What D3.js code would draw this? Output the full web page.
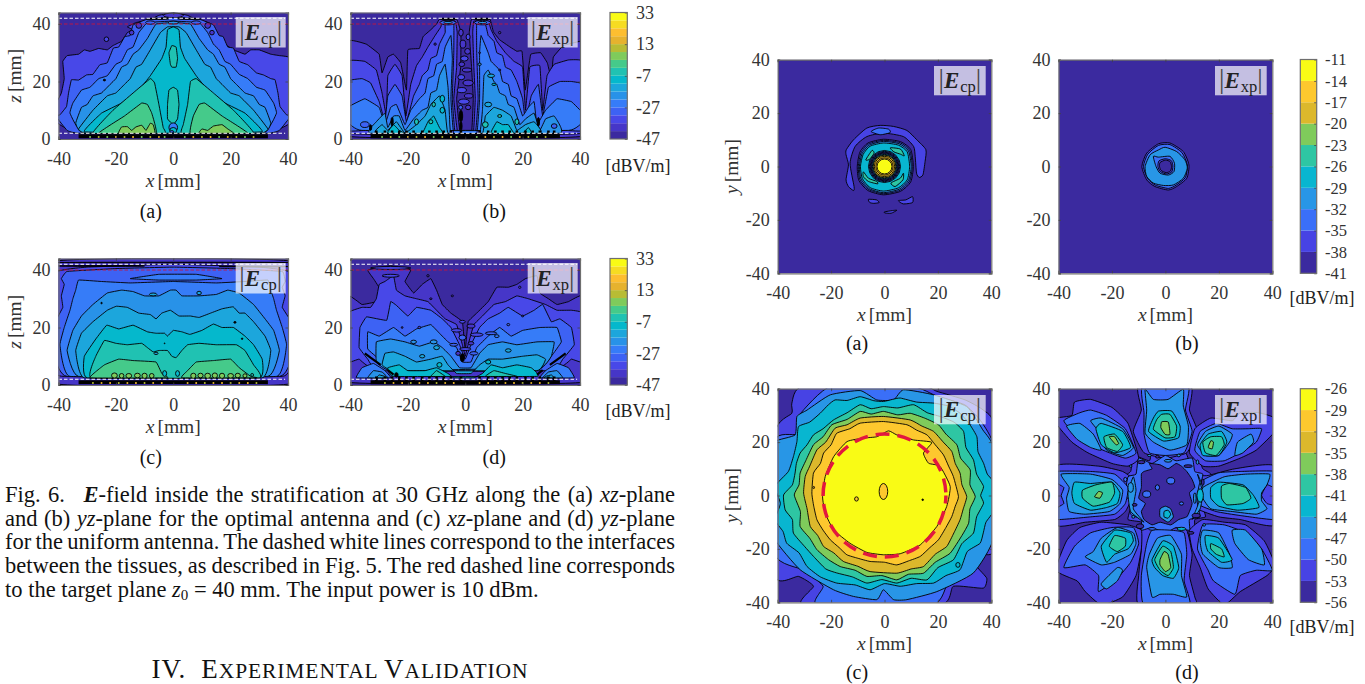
<!DOCTYPE html>
<html>
<head>
<meta charset="utf-8">
<script src="https://d3js.org/d3.v7.min.js"></script>
<style>
  body { margin: 0; background: #fff; }
  text { font-family: "Liberation Serif", serif; }
</style>
</head>
<body>
<svg id="fig" width="1365" height="684"></svg>
<script>
// ticks and colour bands
const xTicks = [-40, -20, 0, 20, 40];
const zTicks = [0, 20, 40];
const yTicks = [-40, -20, 0, 20, 40];
const barTicksXZ = [-47, -27, -7, 13, 33];
const bandsXZ = [-47, -42, -37, -32, -27, -22, -17, -12, -7, -2, 3, 8, 13, 18, 23, 28, 33];
const bandsAB = [-41, -38, -35, -32, -29, -26, -23, -20, -17, -14, -11];
const bandsCD = [-56, -53, -50, -47, -44, -41, -38, -35, -32, -29, -26];
const colours16 = ["#3b2a9f", "#4636c8", "#4848e8", "#3d62f4", "#367cf8", "#2892e8", "#1ca6dc", "#05b8cc",
  "#20c2b2", "#45ca8a", "#7fcb5b", "#b8bc34", "#e6b22e", "#fdbe30", "#f6dc22", "#f9fb15"];
const colours10 = ["#3b2a9f", "#4743e4", "#3a6ff8", "#2896e6", "#08b6d0", "#2ec6a3", "#7fcb5b", "#dcb82c", "#fdc82e", "#f9fb15"];

// contour outlines: [level dB, [x, y, x, y, ...]] in mm
const xzCpOptimal = [
  [-37, [-41,12,-39,16,-38,21,-38.5,27,-37,29,-33,29.5,-31,31,-29,30.5,-26,31.5,-23,31,-21,32.5,-18,34,-16,37,-14,38,-16,39,-13,40.5,-10,41,-8,41.5,-5,43,0,44,5,43,8,41.5,12,40.5,13,38,15,36,18,33,21,31,25,29.5,27,31,30,31,34,29.5,37,29,41,28,41,6,37,3.5,33,2,-33,2,-37,3.5,-41,6]],
  [-32, [-41,8,-39.5,8.4,-37.2,11.3,-36.5,16,-35.5,20.6,-33,20.5,-30.2,22.3,-28,22.5,-25.6,25.8,-23,26.5,-20.9,31.6,-19,32,-16.9,35.6,-15,36,-14,39.7,-9.3,41.6,0,42.5,9.3,41.6,14,39.7,16,36,17.4,35.6,19,32,21,31.6,23,27,26,25.8,29,23,31.4,22.3,34,21,35.5,20.6,36.5,16,37.2,11.3,39.5,8.4,41,8,37,3,32.6,2,-32.6,2,-37,3]],
  [-27, [-36,9,-35,12.5,-32,17,-29,18,-26,21,-23,22,-20,26,-18,27,-16,31,-14,32,-12,37,-9,40.5,0,41,9,40.5,12,37,14,33,16,31,18,27,20,26,23,22.5,26,21,29,18,32,17,35,12.5,36,9,31,2,-31,2]],
  [-22, [-34,5.5,-32,11,-30,12,-28,15,-25,16,-22,19,-20,21,-18,25,-16,26,-14,29.5,-12,31,-9,35,-6,40,0,40.5,6,40,9,35,12,31,14,29.5,16,26,18,25,20,21,22,19,25,16,28,15,30,12,32,11,34,5.5,31,2,-31,2]],
  [-17, [-33,3.5,-28,10,-23,15,-20,16,-17,19,-15,21,-13,25,-11,26,-8,31,-4.5,37,-2,39,2,39,4.5,37,8,31,11,26,13,25,15,21,17,19,20,16,23,15,28,10,33,3.5,30,2,-30,2]],
  [-12, [-31,2.5,-25,9,-18,12.5,-12,17,-8,22,-4,28,-2.5,32,-2,38,0,39,2,38,2.5,32,4,28,8,22,12,17,18,12.5,25,9,31,2.5,0,2]],
  [-7, [-28,2,-21,10,-14,16,-8,21,-6.5,19.5,-5,12,-3.5,4,-3,2]],
  [-7, [3,2,3.5,5,5,12,6,20,8,21,14,16,21,10,28,2]],
  [-7, [-2,7,-2,12,-1.5,17,0,18,1.5,17,2,12,1.5,7,0,5]],
  [-7, [-1,26,-1.5,30,-0.5,32.5,1,32,1.5,28,1,25,-0.5,25]],
  [-2, [-26,2,-17,8,-11,12.5,-9,12,-7.5,9,-6,2]],
  [-2, [6,2,7,8,9,12,11,12.5,17,8,26,2]],
  [3, [-19,2,-18,4.2,-16,4.3,-14.5,3,-13,4.2,-11,4.8,-9.5,3,-8,5.5,-7,5,-6.5,2]],
  [3, [9,2,10,3.5,12,3,14,4.5,17,5,19,3.5,21,2]]
];
const xzCpOptimalBlobs = [
  [-8,40.5,1.6,0.6,-32],[8,40.5,1.6,0.6,-32],[0,40.5,1.8,0.5,-22],[-5.5,41.8,4,0.2,null],[5.5,41.8,4,0.2,null],
  [0,43,3.5,0.8,-42],[-23.3,34.7,0.8,0.8,-37],[-24,20.5,0.4,0.3,null],[0,4,1.5,1.6,-27],[0,3,1.2,1,-12],[-0.5,2.5,0.7,0.4,-32],
  [-12,39.5,1,1,-42],[12,39.5,1,1,-42],[-14.5,37,0.8,0.8,-42],[13.5,37,0.8,0.8,-42]
];
const xzXpOptimal = [
  [-42, [-41,34,-34.5,33,-30,29.5,-29,23,-27,28.5,-25,29.5,-22.5,26.5,-20.5,17,-20,31,-16,31.5,-14.7,35.6,-12,38,-10,40,-9,41.6,-3,41.6,-1.5,37,-1.6,25,-3,14,-1.8,2,2.2,2,2.8,14,2.2,25,1.4,37,2.2,41.6,8.6,41.6,9.8,37.3,12,34.5,15.6,32,18,30.5,19.8,30.5,20.9,17,22.8,29.4,26.3,30,28.6,26.5,30,21,30.7,28.5,34.2,32.5,40,34,41,34,41,1,-41,1]],
  [-37, [-41,27,-35,27,-31,24,-29,16,-27.5,8,-27,22,-24.5,26,-22,22,-20.7,8,-19,19,-17,25.5,-15,28.5,-13,32,-10.5,36,-8.5,39,-8,41,-3.5,41,-2.8,37,-3,25,-4,14,-2.6,2,2.8,2,3.5,14,3,25,2.6,37,3,41,8,41,9,38,11,34,14,30,17,27,20,25,21,10,22.5,25,26,25.5,27,10,28.5,22,31,26,36,27.5,41,27,41,2,-41,2]],
  [-32, [-41,20,-36,21,-33,19.5,-30,13,-28,6,-27,15,-24.5,19,-22,15,-20.5,6,-18,15,-16,19,-15,22,-13,24,-12,28,-10,29,-9,33,-7,37,-7,40,-4,40,-4,30,-4.5,14,-3.5,2,3.5,2,4.5,14,4,30,4,40,7,40,8,36,10,34,11,30,13,29,14,25,16,24,18,20,20,14,21,6,23,15,25.5,19,27,8,29,18,33,20,37,20,41,19,41,3,34,3,-34,3,-41,3]],
  [-27, [-41,11,-35,14,-30,11,-28,5,-26,11,-24,12,-21,5,-19,10,-16,14,-14,16,-13,21,-11,22,-10,26,-8,27,-7,32,-5,36,-4.5,28,-5,14,-4,2,4,2,5,14,5,30,5.5,36,8,30,9,27,12,24,13,20,15,19,16,15,18,14,20,8,22,11,24,13,25,5,28,10,32,14,37,13,41,9,41,6,36,3,-36,3,-41,6]],
  [-22, [-33,2,-31,6,-28,9,-27,4,-25,8,-23,8,-21,3,-18,7,-15,10,-13,11,-12,16,-10,17,-9,22,-7,26,-6,18,-5.5,8,-5,2,5,2,6,10,6.5,22,8,24,10,20,11,19,12,16,14,15,15,12,17,11,19,5,21,7,24,9,26,3,28,7,31,8,33,2]],
  [-17, [-31,2,-29,5,-27,3,-24,6,-21,2,-17,5,-14,8,-12,12,-9,15,-7,10,-6,2,6,2,7,8,10,11,13,10,16,8,18,3,21,5,24,6,26,2]],
  [-12, [-27,2,-25,5,-23,3,-21,2,-15,2,-13,6,-11,8,-9,4,-8,2]],
  [-12, [9,2,11,6,13,5,15,5,17,2,20,2,22,4,23,2]]
];
const xzXpOptimalBlobs = [
  [-6,40.5,2.8,0.8,-32],[6,40.5,2.8,0.8,-32],[-6,40.5,1.5,0.4,-22],[6,40.5,1.5,0.4,-22],[-6,41.8,2.8,0.2,null],[6,41.8,2.8,0.2,null],
  [-1.5,37,0.8,1.2,-42],[1,35.5,0.7,1,-37],[-0.8,33,1,1.4,-42],[0.8,30.5,1,1,-42],[-0.3,28,1.3,0.9,-37],[-1.2,26,1,0.8,-42],[0.6,24,1.6,0.7,-42],[-1.4,21.5,1.2,0.9,-37],[1,19.5,1.8,1,-42],[-1.2,17,1.6,0.9,-37],[1.2,15,1.5,0.8,-42],[-0.5,13,1.9,0.9,-37],[1,11,0.9,0.8,-42],[-1.6,11,0.7,0.7,-32],
  [-1.5,8,0.6,2,null],[-1.5,4.5,0.4,1.5,null],[-25.5,6,0.4,1.5,null],[25.5,6,0.4,1.5,null],[-33,4,0.4,1,null],[-35,5,1.5,1,-32],[31,4.5,1,0.8,-32],
  [5,26,0.6,0.4,-22],[9,22,1.2,0.6,-17],[10,19,0.7,0.4,-12],[8,12,1.2,0.8,-17],[-8,10,0.8,1,-12],[-12,6,0.7,0.7,-7],[12,8,0.7,0.5,-7],[12,24,0.4,0.3,-42],[5,30,0.3,0.3,-42],[12,37,0.4,0.4,-42],[-10.5,33,0.4,0.4,-42],[-8,14,0.8,1.2,-12],[-11,12,0.6,0.8,-7],[7,5,1,1,-7],[-17,6,0.7,1,-7],[18,6,0.7,1,-7]
];
const xzCpUniform = [
  [-42, [-41,0.5,-41,43,41,43,41,0.5]],
  [-37, [-41,39,-30,41,0,42,30,41,41,39,41,8,38,3,-38,3,-41,5]],
  [-32, [-41,22,-38.5,27,-39,31,-38,35,-39,37,-37,39.5,-20,40.5,0,41,20,40.5,38,39.5,39,36,38,34,39,31,38,27,41,22,41,9,37,3,-37,3,-41,9]],
  [-27, [-36,3,-39.5,14,-38,20,-36,26,-35,30,-34,33,-33,36.5,-25,36,-15,35.5,0,36,15,35.5,25,36,33,36.5,34,33,35,30,36,26,38,20,39.5,14,36,3]],
  [-27, [-15,37,-5,38.5,8,38.5,17,37,8,36.5,-5,36.5]],
  [-22, [-33,3,-37,12,-35,19,-32,24,-28,28,-23,32,-18,33,-14,32.5,-10,31,-5,31,-1,33,1,33,3,31,9,31,15,31.5,19,33,23,32,28,28,32,23,35,19,37,12,33,3]],
  [-17, [-31,2.5,-34,12,-32,18,-28,22,-23,26,-19.8,27.4,-16,27,-12,25,-8,24.5,-6,23,-4,25,-1,26,2,24,6,24,9,23.5,13,25,17,26.5,20.9,27.2,23,25,25,25,28,22,32,17,34,12,31,2.5]],
  [-12, [-30,2.5,-31,10,-27,16,-23.2,20.8,-19,19.5,-14,20.8,-9,18.5,-6,18,-3,18,-2,17,0,19,3,18.5,5.8,17.6,10,19,14,21.2,17,20,21,20,25,17,28,14,31,9,30,2.5]],
  [-7, [-28.5,2.5,-27,10,-24,15.5,-20,14.5,-16,14,-11,14.5,-9,13,-7,11.5,-5,12,-2,12,-0.5,10,1,9.5,3,12,5,14,9,14.5,15,14,22,14,25,12,28,7,30,2.5]],
  [-2, [-29,2.5,-24,7,-19,9,-14,8.5,-6,8,-4,4,-2,2.5]],
  [-2, [3,2.5,5,5,8,8,14,8.5,20,9,23,6,27,3,29,2.5]]
];
const xzCpUniformBlobs = [
  [0,42.6,41,0.12,null],[-25,41.4,15,0.15,null],[28,41.2,12,0.15,null],[-3,4,0.7,1,-12],[1.5,4,0.7,1,-12],
  [-7,31.5,1.3,0.5,-17],[9,32,0.8,0.6,-17],[-25,28.5,0.25,0.25,null],[21.5,21.8,0.4,0.3,null],[24,16.1,0.25,0.25,null],[-3,14.5,0.15,0.15,null],
  [27.5,3.5,0.5,0.5,-7],[-6,11,0.7,0.4,-17],
  [-20.5,3.3,1,0.9,3],[-18,3.2,0.8,0.8,3],[-15.5,3.2,1,0.8,3],[-12.5,3.3,1,0.8,3],[-10,3.2,0.9,0.9,3],[-7.5,3.2,0.8,0.8,3],[7,3.2,0.9,0.9,3],[9.5,3.3,0.9,0.8,3],[12,3.2,1,0.9,3],[14.5,3.3,0.9,0.9,3],[17,3.2,0.9,0.9,3],[20,3.2,1,0.8,3],[22.5,3.3,0.9,0.8,3],[25,3.2,0.7,0.7,3]
];
const xzXpUniform = [
  [-42, [-41,31,-36,28,-31,29,-29.5,33,-32,37,-34,40,-26,41.5,-19,40,-21,36,-18,32,-15,35,-12,37,-10,33,-8,28,-5,25,-1,22,0,12,1,22,4,25,8,29,11,34,15,34,18,35,21,37,25,38,26,32,29,30,32,28,36,29,41,31,41,1,-41,1]],
  [-37, [-41,25,-36,27,-33,27,-31,30,-30,35,-28,36,-25,38,-24,33,-21,31,-17,30,-13,29,-10,26,-7,23,-3,21,-1,14,0,10,1,14,3,21,6,24,10,28,14,29,18,31,22,30,28,28,32,26,37,26,41,25,41,8,37,9,32,6,-32,6,-37,9,-41,8]],
  [-32, [-37,13,-36.7,20,-34.4,23.7,-27.4,22.5,-26,29,-24,27.7,-20,24,-17,27,-12,26,-8,23,-5,20,-2,14,0,9,2,14,5,20,8,23,12,25,15,27,20,24,24,26,27,28,30,22,33,23,37,20,38,14,34,9,30,5,-30,5,-34,9]],
  [-27, [-34,12.5,-34,18.5,-30,17,-25,20,-21,17,-17,19.5,-12,21,-9,18,-6,15,-3,13,-1,8,2,8,4,13,8,17,12,20,16,17,20,19,26,20,32,20,33.5,15,30,10,25,5,-25,5,-30,9]],
  [-22, [-31,8,-31,15,-26,16,-21,15,-16,13.5,-11,15,-8,13,-5,10,-2,6,2,6,5,11,8,14,13,15,18,14,25,15,31,15,30,10,26,6,-26,5]],
  [-17, [-29,7,-28,11,-25,11.5,-21,10,-17,8,-12,9,-8,10,-6,7,-3,4,2,4,5,7,8,9,13,9,20,10,25,10.5,28,9,25,5,-25,5]],
  [-12, [-25,3,-27,6,-23,7,-20,5,-14,5,-10,6,-6,4,-4,2.5,3,2.5,6,4,9,7,13,6,18,7,23,6,25,3]],
  [-7, [-12,3,-10,5,-7,3]],
  [-7, [7,3,10,5,14,4,18,3]],
  [-27, [-38,2.5,-36,6,-32,7.5,-28,5,-26,2.5]],
  [-22, [-34,2.5,-32,5,-29,4.5,-27,2.5]],
  [-17, [-31,2.5,-30,3.5,-28,3,-27.5,2.5]],
  [-27, [38,2.5,36,6,32,7.5,28,5,26,2.5]],
  [-22, [34,2.5,32,5,29,4.5,27,2.5]],
  [-17, [31,2.5,30,3.5,28,3,27.5,2.5]]
];
const xzXpUniformBlobs = [
  [-26,40.7,7,0.5,-37],[-26,38,3,0.5,-37],[-1,22,1,0.5,-37],[2,20.5,1.4,0.7,-42],[-3,19,1.8,0.6,-37],[4,17.5,2.2,0.6,-37],[-1,16.5,1.2,0.9,-32],[2,14.5,1,0.6,-42],[-4,14,1.4,0.5,-32],[0,12.5,2,0.5,-37],[-2.5,11,0.8,0.7,-42],[3,11,1.4,0.6,-32],[-1,9.5,0.7,1.4,null],
  [9,18,2,0.5,-32],[-11,15,1.2,0.7,-22],[-24,3.5,0.6,0.8,null],[-12,30,0.4,0.3,-42],[-4.5,31,0.4,0.3,-42],[-13,38,0.4,0.4,-42],[19,34,0.4,0.4,-37],
  [-18,15,1,0.6,-22],[-10,13,1,0.7,-17],[-15,10,0.9,0.6,-17],[15,12,1,0.6,-17],[11,17,0.8,0.5,-27],[8,8,0.9,0.7,-12],[-9,7,0.9,0.8,-12],[-22,20,0.3,0.3,-42],[-16,20,0.5,0.4,-37],[15,21,0.5,0.4,-32],[20,24,0.4,0.3,-37]
];
const cornerSlants = [
  [-35,11,-33,9.5,-29.5,7],[-27,5.2,-25,3.6],
  [35,11,33,9.5,29.5,7],[27,5.2,25,3.6]
];
const xyCpOptimal = [
  [-38, [-14.3,6.3,-11.6,10,-6.6,14.4,-1.6,15.4,3.4,15,8.4,13.5,12.1,10,15.5,6.3,15.2,1.9,14.4,-3.1,13,-4.1,12,-2.5,11.5,3.7,10.9,7.5,7.1,11.2,-0.4,12.5,-6.6,11.2,-11,7.5,-12.9,1.2,-11.4,-7.5,-11.6,-9,-13.5,-7.5,-14.4,-5,-13.5,0.6,-14.4,4.4]],
  [-35, [-5,13.1,-2.2,14.4,1.5,14,2.1,12.7,-1.6,11.9]],
  [-38, [-6,-12.3,-3,-12.5,-2,-13.5,-4,-13.8,-5.5,-13.5]],
  [-38, [5.2,-12.8,8,-12.5,10.5,-11.3,10.5,-13.5,7,-14]],
  [-38, [0,-17,3,-16.5,4.6,-16.4,2.5,-17.5,0.2,-17.4]],
  [-38, [-10.2,0,-9.2,5.4,-6.2,8.8,-0.4,10.2,6,9.3,9.8,6.4,10.8,0,9.8,-5.8,6,-9.3,-0.4,-10.6,-6.2,-9,-9.6,-5.2]],
  [-35, [-9.8,0,-8.8,5.1,-6,8.4,-0.4,9.8,5.8,8.9,9.4,6.1,10.4,0,9.4,-5.5,5.8,-8.9,-0.4,-10.2,-6,-8.6,-9.2,-5]],
  [-32, [-9.4,0,-8.4,4.8,-5.7,8,-0.4,9.4,5.5,8.5,9,5.8,10,0,9,-5.2,5.5,-8.5,-0.4,-9.8,-5.7,-8.3,-8.8,-4.7]],
  [-29, [-9,0,-8,4.5,-5.4,7.6,-0.4,8.8,5.2,8,8.5,5.5,9.4,0,8.5,-5,5.2,-8,-0.4,-9.2,-5.4,-7.9,-8.3,-4.5]],
  [-26, [2.2,7,6,6.5,7.4,4,6,4.6,3.5,5.5]],
  [-26, [-7,2.5,-4.7,6,-3.9,5,-5.6,2.7]],
  [-26, [-7.9,-2,-6,-4.4,-2.9,-5.6,-2.6,-6.5,-6,-5.6,-7.9,-3.8]],
  [-26, [2.4,-6.2,5.9,-4.4,7.1,-2.5,6.9,-5,4,-7.5]]
];
const xyCpOptimalRings = [
  [0,0,6,6,-32],[0,0,5.7,5.7,-35],[0,0,5.4,5.4,-38],[0,0,5.1,5.1,-41],[0,0,4.85,4.85,-35],[0,0,4.55,4.55,-29],[0,0,4.25,4.25,-20],[0,0,3.8,3.8,-17],[0,0,3.25,3.25,-17],[0,0,2.8,2.8,-14]
];
const xyXpOptimal = [
  [-38, [-8.8,0,-7,5,-2.6,8.5,1.7,8.8,6.7,5.6,8.8,0.6,8,-4.4,4.2,-7.5,1.1,-8.8,-3.9,-7.5,-7,-5]],
  [-35, [-8.2,0,-6.6,4.6,-2.6,7.9,1.7,8.2,6.2,5.2,8.2,0.6,7.5,-4.1,4,-7,1.1,-8.2,-3.7,-7,-6.6,-4.6]],
  [-32, [-7.6,0,-5.7,4.4,-2.6,6.2,-0.1,7.2,4.2,5.6,7.3,2.5,8.2,-0.6,6.7,-4.4,3,-6.9,-0.7,-7.1,-4.5,-6.2,-7,-3.7]],
  [-35, [-4.5,3.8,-2.6,3.5,1.7,3.8,3.4,1.2,3.2,-1.9,1.1,-3.2,-2,-2.5,-3.5,0]],
  [-38, [-2.4,2.1,0,2.9,2.2,2.2,2.8,0.2,2.4,-2,0.4,-2.8,-1.9,-1.9,-2.8,0]],
  [-41, [-2,1.5,0,2.4,1.8,1.8,2.3,0,1.9,-1.7,0.3,-2.3,-1.6,-1.5,-2.2,0]]
];
const xyCpUniform = [
  [-53, [-41,23.4,-34.7,30.8,-34.7,34.6,-30.3,41,13.4,41,19.6,39,30.2,35.8,37,32,41,25.9,41,-20.4,33.3,-21,34.6,-26.6,38.3,-31,37,-34.7,25.8,-34,20.8,-41,-30.3,-41,-26.6,-34,-32.2,-30.3,-41,-30]],
  [-50, [-41,20.5,-33,23,-32,30,-20,41,10,41,20,37,30,34,36,28,41,18,41,-16,31,-22,31,-30,24,-32,18,-41,-25,-41,-23,-34,-30,-28,-41,-22]],
  [-47, [-41,5.9,-41,13.4,-41,20.2,-33.5,22.7,-32.8,29.6,-29,32,-20.3,37.7,-9.1,39.3,-2.9,35.8,3.4,35.8,7.1,39.6,18.4,37.7,30.8,33.3,36.8,24.6,41,17.1,41,-15.4,33.3,-29,19.6,-36,8.4,-39,3.4,-39,-0.4,-35.3,-2.9,-39,-11.6,-37.8,-19.1,-35.3,-31.6,-27.8,-41,-16.6,-41,-9]],
  [-44, [-41,3.4,-36,9,-34,15,-32.8,20.2,-32.2,25.8,-28,27.5,-24.1,30.8,-21,34,-18.5,35.8,-14,35.6,-9.1,37,-4,35.5,-0.4,35.2,3,36,5.9,36.5,12,35,18.4,34.6,24,33.5,28.3,30.8,32,26.5,34.6,22,35,16.5,37.1,12.1,38.5,8,41,4.6,41,-5.4,38,-10,37,-14,35.8,-17.9,31,-21,28.3,-27.8,23,-30,18.4,-32.8,12,-33,5.9,-34,0,-33,-5.4,-35.3,-11,-33.5,-17.9,-32.8,-24,-30.5,-29,-26.6,-32,-21.5,-36.6,-17.9,-38,-13.5,-41,-9.1,-39,-3]],
  [-41, [-37.8,0.2,-34.5,4,-33.5,8.4,-33,12,-31.6,15.9,-29,19,-26.6,22.7,-23,25,-19.1,28.3,-14,31,-9.1,34,-5,32.5,-0.4,33.3,5,32.8,10.9,34,16,31,20.8,29.6,26,27.5,29.6,24,30.5,18,33.3,13.4,34.5,8,37.1,3.4,36,0,37.1,-2.9,34.5,-8,33.3,-14.1,29,-18,25.8,-24.1,20,-27,15.9,-31.6,10,-31,4.6,-32.8,-1,-31.5,-6.6,-32.8,-12,-30.5,-17.9,-29,-22,-27.5,-26.6,-22.8,-30,-19,-34.1,-14.1,-34.5,-9,-37.2,-5.4]],
  [-38, [-33.8,0.2,-32,4,-31.6,8.4,-29.5,13,-26.6,19,-23,22,-19.7,26.5,-14,28.5,-9.1,31.5,-5,30.5,-0.4,31.5,5,30.2,9.6,30.8,15,29,20.2,26.5,23,23,27.1,19,28.5,14,32.1,9.6,32,4,34,-0.4,32,-5,31.5,-10.4,29,-15,24.6,-21.6,19,-25,14.6,-29.1,9,-29.5,4.6,-31.6,-1,-30,-6.6,-30.3,-11,-28,-16.6,-26.6,-21,-24,-25.3,-20.3,-28,-16,-31.6,-11.6,-31.5,-6]],
  [-35, [-30.3,0.9,-29.7,7.1,-28,11,-25.3,17.1,-22,20,-18.5,25.2,-14,26.5,-9.1,29,-0.4,29.6,9.6,28.3,14,26,18.4,24,22,20,25.2,16.5,26.5,12,28.3,8.4,29,4,30.8,-0.4,29.5,-5,28.3,-9.1,26,-14,23.3,-19.1,19,-22,14.6,-26.6,10,-27.5,4.6,-29.1,-5.4,-28.5,-10,-26.5,-15.4,-24.7,-19,-21.5,-22.8,-19.1,-25,-15,-27.8,-11.6,-29,-5]],
  [-32, [-27.2,0.9,-26.6,8.4,-24,12,-22.8,15.9,-20,19,-17.9,23.3,-13,25,-9.1,27.1,-0.4,27.7,8.4,26.5,12,24.5,15.9,22.7,19,19,22.1,15.2,24,11,25.8,7.1,27.7,-0.4,26.5,-4,25.2,-7.9,23,-12,20.2,-16.6,17,-19.5,13.4,-22.8,9,-24.5,4.6,-26,0,-25,-5.4,-24.7,-10,-23.5,-14.1,-22.2,-17,-19.5,-20.3,-16.6,-23,-13,-25.3,-9.1,-26.5,-4]],
  [-29, [-23.2,-0.4,-22.2,7.1,-19,14.6,-14,20.2,-7.9,21.5,-2.9,22,1.5,24.2,4.6,22.7,10.9,20.8,17.7,19.9,14.6,15.9,16.5,12.1,20.8,10.9,24.6,3.4,23.3,-4.1,19.6,-11.6,13.4,-18.5,5.9,-21.8,-0.4,-22.2,-6.6,-21.3,-12.9,-17.9,-19,-12.9,-22.2,-6.6]]
];
const xyCpUniformBlobs = [
  [-0.4,1.5,1.6,3,-32],[-10.5,-1.3,0.7,0.8,-32],[14.3,-1.6,0.3,0.3,null],[-26.5,3,0.3,0.4,-32],[27.5,-26,0.8,0.9,-44]
];
const targetRadius = [23];
const xyXpUniform = [
  [-53, [-17,6,-13,9,-12,15,-6,13,-5,17,0,15,7,17,9,13,12,15,14,10,17,8,15,3,16,0,14,-4,15,-8,11,-9,11,-14,7,-12,4,-16,-1,-13,-3,-15,-9,-14,-9,-10,-14,-9,-13,-4,-16,0]],
  [-50, [-14,7,-11,8,-10,14,-5,12,0,15,4,13,10,14,11,9,14,8,13,3,15,0,12,-3,13,-8,9,-9,9,-13,4,-12,0,-14,-5,-12,-9,-13,-9,-9,-13,-7,-12,-3,-15,0]],
  [-47, [-14,1,-12,7,-11,2,-12,-5,-8,-10,-13,-6]],
  [-47, [12,8,14,3,12,-4,10,-9,13,-5,14,1]],
  [-53, [-10,41,9.5,41,9,32,12,24,8,16,0,14,-8,16,-12,24,-9,32]],
  [-50, [-8.5,41,8.5,41,7.5,32,10,24,7,16,0,15,-6,16,-8,23,-8,31]],
  [-47, [-7.6,39.8,-4.5,36,1,36,6.7,39.8,6.7,33.5,8.6,26,8,19,1.7,17,-4.5,20,-7.6,23.5,-7,32]],
  [-44, [-2.6,31.6,2.4,31.6,5.5,26,4.9,21.6,-0.7,20.4,-6.3,24,-4.5,29]],
  [-41, [-1.4,30.4,1.7,30.4,4.2,26,3.6,22,-0.1,21.6,-4.5,24.8,-3.2,28.5]],
  [-38, [-1.4,27.6,1.1,27.5,1.7,22.9,-0.1,22.9,-1.7,25.4]],
  [-53, [9,16,11,25,17,29,25,28,28,31,35,31,41,29,41,24,34,17,28,14,20,11,14,11]],
  [-50, [11,17,13,24,19,27,25,25,31,25,36,25,34,20,28,16,22,13,15,13]],
  [-47, [12,19,15,24,20,26,25,23,24,20,20,15,15,15]],
  [-47, [26,15,27,20,32,23,33,20,29,16]],
  [-44, [13,19,16,23,21,24,23,20,20,15,14,15]],
  [-41, [14,20,17,22,21,22,22,19,19,15,15,16]],
  [-38, [16,18,17,20.5,18,20,17.5,17.5]],
  [-53, [11,7,16,7.5,26,10,41,11,41,-11,28,-9,20,-8,12,-5,11,0]],
  [-50, [13,5,20,8.5,28,9,41,9,41,3,38,4,36,0,38,-3,41,-4,41,-9,28,-7.5,19,-6,12,-3]],
  [-47, [14,3,22,7,30,8,39,8,38,4,36,1,36,-2,38,-5,34,-7,25,-6,17,-5,14,-1]],
  [-44, [17,3,20,5,29,4,33,0,35,-4.5,27,-5.5,20,-4,17,-1]],
  [-41, [21,3.5,24,4.5,30,3,32,-1,29,-3,23,-3.5,21,-1]],
  [-53, [9,-13,14,-9,22,-10,30,-11,37,-17,41,-26,38,-30,28,-36,22,-41,16,-35,13,-27,10,-20]],
  [-50, [14,-11,22,-11,30,-14,36,-20,40,-28,34,-28,28,-30,26,-37,18,-32,16,-28,12,-20]],
  [-47, [14,-13,20,-14,24,-22,25,-27,20,-27,14,-22,13,-17]],
  [-47, [25,-13,30,-13,36,-20,37,-26,31,-24,26,-18]],
  [-44, [15,-15,20,-16,25,-24,21,-25,16,-21,15,-18]],
  [-41, [17,-18,21,-20,22,-23,19,-22,17,-20]],
  [-53, [-10,-41,-10,-30,-9,-20,-9,-13,-4,-11,3,-12,8,-13,10,-22,9,-30,11,-38,11,-41]],
  [-50, [-8,-41,-9,-30,-7,-18,-5,-13,2,-13,7,-14,8,-22,7,-32,9,-41]],
  [-47, [-5,-38,-7,-27,-6,-22,-3,-16,2,-15,6,-22,6,-30,8,-38,3,-37,-2,-37]],
  [-44, [-5,-24,-1,-17,3,-19,5,-27,3,-31,-1,-30,-4,-27]],
  [-41, [-4,-24,-1,-19,2,-21,3,-27,1,-30,-2,-28]],
  [-38, [-2,-24,-0.5,-21,1,-22,2,-27,0,-28.5,-2,-26]],
  [-53, [-9,-13,-14,-11,-24,-10,-32,-12,-37,-17,-41,-28,-33,-32,-30,-36,-24,-41,-16,-38,-11,-30,-9,-20]],
  [-50, [-12,-12,-20,-12,-28,-14,-34,-19,-38,-27,-30,-26,-25,-30,-25,-36,-18,-31,-13,-25,-10,-18]],
  [-47, [-12,-14,-18,-12,-24,-16,-27,-21,-30,-23,-24,-26,-19,-25,-13,-22,-11,-18]],
  [-47, [-24,-33,-18,-27,-16,-28,-18,-32,-22,-35]],
  [-44, [-13,-14,-19,-13,-24,-19,-22,-25,-19,-22,-14,-20,-12,-17]],
  [-41, [-15,-16,-19,-15,-21,-19,-18,-21,-15,-19]],
  [-53, [-41,11,-25,11,-16,9,-11,5,-13,-2,-15,-6,-19,-9,-30,-10,-41,-11]],
  [-50, [-41,9,-28,9,-19,8,-14,3,-15,-3,-19,-7,-28,-8,-41,-9,-41,-5,-38,-3,-39,0,-38,3,-41,5]],
  [-47, [-39,8,-28,8,-20,6,-16,2,-17,-3,-21,-6,-30,-7,-36,-6,-37,-1,-36,3]],
  [-44, [-34,5,-28,4.5,-20,5,-17,1,-18,-3,-22,-4.5,-28,-5.5,-34,-3,-35,1]],
  [-41, [-31,2,-26,4,-20,5,-19,1,-21,-2.5,-27,-4,-31,-1]],
  [-38, [-26.5,-0.5,-25,1.5,-23.5,1,-24.5,-1]],
  [-53, [-10,14,-14,27,-20,33,-28,36,-34,35,-35,30,-41,29,-41,27,-35,20,-29,16,-20,12,-14,11]],
  [-50, [-11,16,-15,25,-22,30,-28,32,-32,31,-38,28,-33,22,-28,19,-21,16,-15,14]],
  [-47, [-12,18,-16,25,-24,29,-28,28,-25,24,-22,17,-16,15]],
  [-47, [-37,26,-32,27,-27,23,-24,17,-28,18,-33,21]],
  [-44, [-13,18,-16,24,-24,27,-26,25,-24,19,-19,16]],
  [-41, [-16,19,-19,23,-23,22,-22,18,-18,16.5]],
  [-38, [-18.5,19,-21,22,-19,22,-17.5,19.5]]
];
const xyXpUniformHoles = [
  [-56, [-9,8,-8,9,-5,10,-6,12,-2,11.5,1,10,4,12,6,11,8,9,10,6,11,3,9,1,10,-3,9,-6,8,-8,5,-9,2,-11,-2,-10,-5,-11,-8,-9,-9,-6,-7.5,-3,-10,-1,-9,3]],
  [-47, [-2,-5,0,-4,2,-5,3,-8,1,-10,-2,-8]],
  [-44, [-0.5,-6,1,-5.5,2,-7,1,-8.5,-0.5,-8]]
];
const xyXpUniformBlobs = [
  [-7,0.5,1.5,1.2,-50],[-3,3,0.8,1,-50],[2,5.5,1.5,1.2,-50],[6,-3,0.8,0.6,-50],[-13,3,1,1.8,-47],[13,0,1.2,2.5,-44],[-11.5,-3.5,0.9,0.5,-56],[-9,12.5,1.4,0.6,-56],[-3,14.5,0.7,0.5,-56],[8.5,11,1.6,0.5,-56],[11.5,-7.5,1.5,0.8,-56],[14,5,0.5,1.2,-56],[9.5,-14,1.2,0.5,-56],[-9.5,-11.5,1.4,0.9,-56],
  [-13,11,0.5,0.4,-47],[-6,15,0.7,0.4,-47],[1,13,1.4,0.5,-47],[5,15,0.6,0.5,-47],[12,12.5,0.5,0.8,-47],[11,-1,0.5,2,-47],[14.5,-11,0.5,0.5,-47],[6,-12.5,1.6,0.6,-44],[-5,-12.5,1.3,0.5,-50],[-12,-8,0.6,0.5,-47],[-15,6,0.6,0.8,-50]
];

// the noisy strip along z = 0..2: x of the specks and their level
const specksOptimal = [[-29,3],[-26,8],[-23,3],[-20,13],[-17,8],[-14,18],[-11,3],[-8,8],[-5,13],[-3,3],[4,3],[7,13],[10,8],[13,18],[16,3],[19,13],[22,8],[25,3],[28,8]];
const specksUniform = [[-28,8],[-25,13],[-22,18],[-19,8],[-16,13],[-13,18],[-10,8],[-7,13],[-4,18],[5,13],[8,18],[11,8],[14,13],[17,18],[20,8],[23,13],[26,18],[29,8]];
const teethX = [-31,-28,-25.5,-23,-20.5,-18,-15,-12.5,-10,-7.5,-5,-1.5,5,8,10.5,13,15.5,18,21,23.5,26,29,31];
const interfaces = [2, 42];
const targetZ = [40];

const captionLines = [
  [["Fig. 6.\u2002 "], ["E", "b"], ["-field inside the stratification at 30 GHz along the (a) "], ["xz", "i"], ["-plane"]],
  [["and (b) "], ["yz", "i"], ["-plane for the optimal antenna and (c) "], ["xz", "i"], ["-plane and (d) "], ["yz", "i"], ["-plane"]],
  [["for the uniform antenna. The dashed white lines correspond to the interfaces"]],
  [["between the tissues, as described in Fig. 5. The red dashed line corresponds"]],
  [["to the target plane "], ["z", "i"], ["0", "s"], [" = 40 mm. The input power is 10 dBm."]]
];
const headingParts = [["IV.  E", 27], ["XPERIMENTAL ", 21.5], ["V", 27], ["ALIDATION", 21.5]];

const svg = d3.select("#fig");
let clipId = 0;

function toPoints(flat) {
  return d3.range(0, flat.length, 2).map(i => [flat[i], flat[i + 1]]);
}

function legendText(g, cx, cy, sub) {
  const t = g.append("text").attr("x", cx).attr("y", cy + 7.5).attr("text-anchor", "middle").attr("fill", "#222");
  t.append("tspan").attr("font-size", 27).attr("fill", "#444").text("|");
  t.append("tspan").attr("font-size", 23).attr("font-weight", "bold").attr("font-style", "italic").text("E");
  t.append("tspan").attr("font-size", 16.5).attr("dy", 4).attr("dx", 1).text(sub);
  t.append("tspan").attr("font-size", 27).attr("fill", "#444").attr("dy", -4).text("|");
}

function drawPanel(o) {
  const x = d3.scaleLinear().domain([-40, 40]).range([o.left, o.right]);
  const y = d3.scaleLinear().domain(o.yDomain).range([o.bottom, o.top]);
  const colour = d3.scaleThreshold().domain(o.bands.slice(1, -1)).range(o.colours);
  const line = d3.line().x(d => x(d[0])).y(d => y(d[1])).curve(d3.curveCardinalClosed.tension(o.tension));
  const g = svg.append("g");
  const id = "clip" + (clipId++);

  g.append("clipPath").attr("id", id).append("rect")
    .attr("x", o.left).attr("y", o.top).attr("width", o.right - o.left).attr("height", o.bottom - o.top);
  const plot = g.append("g").attr("clip-path", "url(#" + id + ")");
  plot.append("rect").attr("x", o.left).attr("y", o.top).attr("width", o.right - o.left).attr("height", o.bottom - o.top)
    .attr("fill", o.colours[0]);

  const addPolys = rows => plot.append("g").selectAll("path").data(rows).join("path")
    .attr("d", d => line(toPoints(d[1])))
    .attr("fill", d => colour(d[0]))
    .attr("stroke", "#000").attr("stroke-width", 0.9).attr("stroke-linejoin", "round");
  addPolys(o.sorted ? d3.sort(o.polys, d => d[0]) : o.polys);
  if (o.holes) addPolys(o.holes);

  if (o.slants) {
    plot.append("g").selectAll("path").data(o.slants).join("path")
      .attr("d", d => d3.line().x(p => x(p[0])).y(p => y(p[1]))(toPoints(d)))
      .attr("fill", "none").attr("stroke", "#000").attr("stroke-width", 2.2);
  }

  if (o.blobs) {
    plot.append("g").selectAll("ellipse").data(o.blobs).join("ellipse")
      .attr("cx", d => x(d[0])).attr("cy", d => y(d[1]))
      .attr("rx", d => x(d[2]) - x(0))
      .attr("ry", d => y(0) - y(d[3]))
      .attr("fill", d => d[4] === null ? "#000" : colour(d[4]))
      .attr("stroke", "#000").attr("stroke-width", 0.9);
  }

  if (o.specks) {
    // black strip and the specks in it
    plot.append("line").attr("x1", x(-33)).attr("x2", x(33)).attr("y1", y(1)).attr("y2", y(1))
      .attr("stroke", "#000").attr("stroke-width", 4);
    if (o.teeth) {
      plot.append("g").selectAll("line").data(o.teeth).join("line")
        .attr("x1", d => x(d)).attr("x2", d => x(d)).attr("y1", y(1)).attr("y2", y(3))
        .attr("stroke", "#000").attr("stroke-width", 2.6);
    }
    plot.append("g").selectAll("circle").data(o.specks).join("circle")
      .attr("cx", d => x(d[0])).attr("cy", y(0.7)).attr("r", 1)
      .attr("fill", d => colour(d[1]));
  }

  if (o.interfaces) {
    plot.append("g").selectAll("line").data(o.interfaces).join("line")
      .attr("x1", x(-40)).attr("x2", x(39)).attr("y1", d => y(d)).attr("y2", d => y(d))
      .attr("stroke", "#fff").attr("stroke-width", 1).attr("stroke-dasharray", "3.5,2");
    plot.append("g").selectAll("line.t").data(targetZ).join("line")
      .attr("x1", x(-40)).attr("x2", x(40)).attr("y1", d => y(d)).attr("y2", d => y(d))
      .attr("stroke", "#c8153c").attr("stroke-width", 0.9).attr("stroke-dasharray", "3.5,2");
  }
  if (o.targetCircle) {
    plot.append("g").selectAll("circle.t").data(targetRadius).join("circle")
      .attr("cx", x(0)).attr("cy", y(0)).attr("r", d => x(d) - x(0))
      .attr("fill", "none").attr("stroke", "#e2173f").attr("stroke-width", 3.5)
      .attr("stroke-dasharray", "14,8").attr("stroke-dashoffset", 6);
  }

  // legend box
  const bx = o.right - o.boxRight - o.boxW, by = o.top + o.boxTop;
  g.append("rect").attr("x", bx).attr("y", by).attr("width", o.boxW).attr("height", o.boxH)
    .attr("fill", "#fff").attr("fill-opacity", 0.7);
  legendText(g, bx + o.boxW / 2, by + o.boxH / 2, o.sub);

  // axes, ticks on all four sides pointing in
  const tickText = d => String(d);
  const styleAxis = a => {
    a.selectAll(".domain").attr("stroke", "#6e6e6e").attr("stroke-width", 1.2);
    a.selectAll(".tick line").attr("stroke", "#444").attr("stroke-width", 0.8);
    a.selectAll("text").attr("font-family", "Liberation Serif").attr("font-size", 18).attr("fill", "#333");
  };
  g.append("g").attr("transform", "translate(0," + o.bottom + ")")
    .call(d3.axisBottom(x).tickValues(xTicks).tickSize(-2.5).tickPadding(13).tickFormat(tickText)).call(styleAxis);
  g.append("g").attr("transform", "translate(" + o.left + ",0)")
    .call(d3.axisLeft(y).tickValues(o.yTicks).tickSize(-2.5).tickPadding(8).tickFormat(tickText)).call(styleAxis);
  g.append("g").attr("transform", "translate(0," + o.top + ")")
    .call(d3.axisTop(x).tickValues(xTicks).tickSize(-2.5).tickFormat("")).call(styleAxis);
  g.append("g").attr("transform", "translate(" + o.right + ",0)")
    .call(d3.axisRight(y).tickValues(o.yTicks).tickSize(-2.5).tickFormat("")).call(styleAxis);

  // x label
  const cx = (o.left + o.right) / 2;
  const xl = g.append("text").attr("x", cx).attr("y", o.bottom + 47.5).attr("text-anchor", "middle")
    .attr("font-size", 19.5).attr("fill", "#333");
  xl.append("tspan").attr("font-style", "italic").text("x");
  xl.append("tspan").attr("dx", 3).text("[mm]");

  if (o.yName) {
    const cy = (o.top + o.bottom) / 2;
    const yl = g.append("text").attr("transform", "translate(" + (o.left - o.yNameGap) + "," + cy + ") rotate(-90)")
      .attr("text-anchor", "middle").attr("font-size", 19.5).attr("fill", "#333");
    yl.append("tspan").attr("font-style", "italic").text(o.yName);
    yl.append("tspan").attr("dx", 3).text("[mm]");
  }

  g.append("text").attr("x", cx + o.tagShift).attr("y", o.bottom + o.tagGap).attr("text-anchor", "middle")
    .attr("font-size", 20).attr("fill", "#111").text(o.tag);
}

function drawBar(left, right, top, bottom, bands, colours, ticks, labelX, fontSize, unitX, unitY) {
  const y = d3.scaleLinear().domain([bands[0], bands[bands.length - 1]]).range([bottom, top]);
  const g = svg.append("g");
  g.append("g").selectAll("rect").data(d3.pairs(bands)).join("rect")
    .attr("x", left).attr("width", right - left)
    .attr("y", d => y(d[1])).attr("height", d => y(d[0]) - y(d[1]))
    .attr("fill", (d, i) => colours[i]);
  const ax = g.append("g").attr("transform", "translate(" + right + ",0)")
    .call(d3.axisRight(y).tickValues(ticks).tickSize(-2.5).tickPadding(labelX - right).tickFormat(d => String(d)));
  ax.select(".domain").remove();
  ax.selectAll(".tick line").attr("stroke", "#444").attr("stroke-width", 0.8);
  ax.selectAll("text").attr("font-family", "Liberation Serif").attr("font-size", fontSize).attr("fill", "#333");
  g.append("rect").attr("x", left).attr("y", top).attr("width", right - left).attr("height", bottom - top)
    .attr("fill", "none").attr("stroke", "#6e6e6e").attr("stroke-width", 1.2);
  g.append("text").attr("x", unitX).attr("y", unitY).attr("text-anchor", "middle")
    .attr("font-size", 18).attr("fill", "#222").text("[dBV/m]");
}

const leftBase = {
  yDomain: [0, 44], yTicks: zTicks, bands: bandsXZ, colours: colours16, tension: 0.8, sorted: true,
  boxRight: 2.3, boxTop: 4.5, boxW: 50, boxH: 30.5, interfaces: interfaces, tagGap: 79
};
const rightBase = {
  yDomain: [-40, 40], yTicks: yTicks, colours: colours10, tension: 0.35,
  boxRight: 5.6, boxTop: 6.3, boxW: 51.7, boxH: 29.3, tagGap: 77
};

drawPanel({ ...leftBase, left: 58.5, right: 288, top: 12.5, bottom: 139, polys: xzCpOptimal, blobs: xzCpOptimalBlobs,
  specks: specksOptimal, sub: "cp", yName: "z", yNameGap: 38, tag: "(a)", tagShift: -22.5 });
drawPanel({ ...leftBase, left: 350.5, right: 580, top: 12.5, bottom: 139, polys: xzXpOptimal, blobs: xzXpOptimalBlobs,
  specks: specksOptimal, teeth: teethX, sub: "xp", tag: "(b)", tagShift: 29 });
drawPanel({ ...leftBase, left: 58.5, right: 288, top: 258.5, bottom: 385, polys: xzCpUniform, blobs: xzCpUniformBlobs,
  specks: specksUniform, sub: "cp", yName: "z", yNameGap: 38, tag: "(c)", tagShift: -22.5 });
drawPanel({ ...leftBase, left: 350.5, right: 580, top: 258.5, bottom: 385, polys: xzXpUniform, blobs: xzXpUniformBlobs,
  specks: specksUniform, teeth: teethX, slants: cornerSlants, sub: "xp", tag: "(d)", tagShift: 29 });
drawBar(610, 627.3, 12.5, 139, bandsXZ, colours16, barTicksXZ, 636, 18, 638, 171.5);
drawBar(610, 627.3, 258.5, 385, bandsXZ, colours16, barTicksXZ, 636, 18, 638, 416.5);

drawPanel({ ...rightBase, left: 777.7, right: 991.3, top: 59.7, bottom: 273.3, bands: bandsAB, polys: xyCpOptimal,
  blobs: xyCpOptimalRings, sub: "cp", yName: "y", yNameGap: 40, tag: "(a)", tagShift: -27.5 });
drawPanel({ ...rightBase, left: 1058.5, right: 1272.3, top: 59.7, bottom: 273.3, bands: bandsAB, polys: xyXpOptimal,
  sub: "xp", tag: "(b)", tagShift: 21.5 });
drawPanel({ ...rightBase, left: 777.7, right: 991.3, top: 388.7, bottom: 602.3, bands: bandsCD, polys: xyCpUniform,
  blobs: xyCpUniformBlobs, targetCircle: true, tension: 0.5, sub: "cp", yName: "y", yNameGap: 40, tag: "(c)", tagShift: -27.5 });
drawPanel({ ...rightBase, left: 1058.5, right: 1272.3, top: 388.7, bottom: 602.3, bands: bandsCD, polys: xyXpUniform,
  sorted: true, tension: 0.55, holes: xyXpUniformHoles, blobs: xyXpUniformBlobs, sub: "xp", tag: "(d)", tagShift: 21.5 });
drawBar(1300.3, 1316.7, 59.5, 273.3, bandsAB, colours10, bandsAB, 1325, 16.5, 1322, 304);
drawBar(1300.3, 1316.7, 388.7, 602.3, bandsCD, colours10, bandsCD, 1325, 16.5, 1322, 633);

// caption, justified with word spacing
const capLeft = 5, capRight = 675, capY = [502, 525.5, 549, 572.5, 596.5];
captionLines.forEach((row, i) => {
  const t = svg.append("text").attr("x", capLeft).attr("y", capY[i]).attr("font-size", 22.5).attr("fill", "#111")
    .attr("xml:space", "preserve").style("white-space", "pre");
  row.forEach(part => {
    const s = t.append("tspan").text(part[0]);
    if (part[1] === "b") s.attr("font-weight", "bold").attr("font-style", "italic");
    if (part[1] === "i") s.attr("font-style", "italic");
    if (part[1] === "s") s.attr("font-size", 15).attr("dy", 3);
    if (i === 4 && part[0].startsWith(" =")) s.attr("dy", -3);
  });
  if (i < captionLines.length - 1) {
    const gaps = row.map(p => p[0]).join("").split(" ").length - 1;
    t.style("word-spacing", ((capRight - capLeft - t.node().getComputedTextLength()) / gaps) + "px");
  }
});

const heading = svg.append("text").attr("x", 340).attr("y", 678).attr("text-anchor", "middle").attr("fill", "#111")
  .attr("xml:space", "preserve").style("white-space", "pre").style("letter-spacing", "0.9px");
headingParts.forEach(p => {
  heading.append("tspan").attr("font-size", p[1]).text(p[0]);
});
</script>
</body>
</html>
